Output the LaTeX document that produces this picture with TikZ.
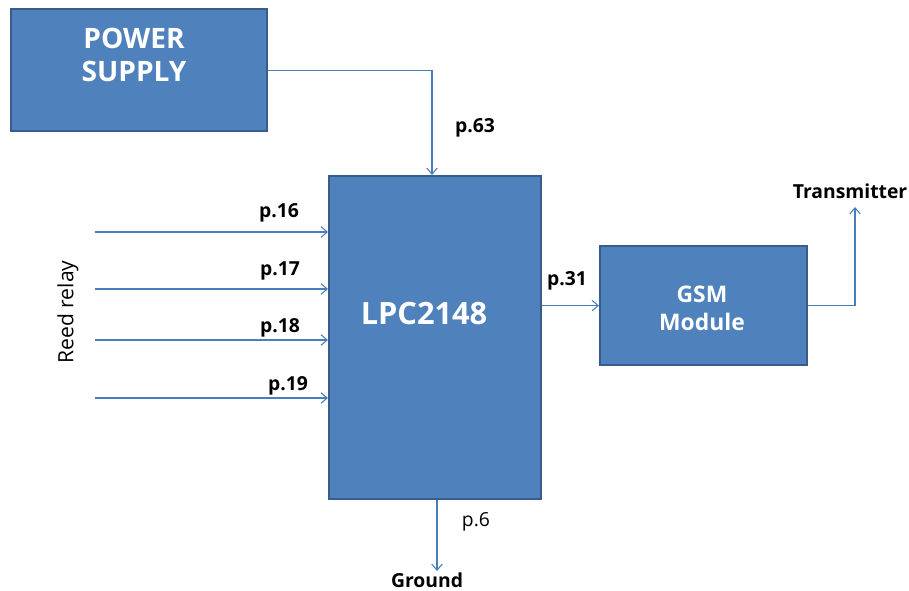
\documentclass[tikz,border=0pt]{standalone}
\usepackage{fontspec}
\setmainfont{Open Sans}
\usetikzlibrary{positioning,arrows.meta}
\definecolor{blockfill}{HTML}{4F81BD}
\definecolor{blockedge}{HTML}{385D8A}
\definecolor{wirecol}{HTML}{4A7EBB}
\tikzset{
	block/.style = {draw = blockedge, fill = blockfill, line width = 1.3pt, inner sep = 0pt},
	blocktext/.style = {text = white, font = \bfseries, align = center},
	wire/.style = {draw = wirecol, line width = .6pt, -{Straight Barb[length = 3.5pt, width = 6pt]}},
	pin/.style = {font = \fontsize{11}{13}\selectfont\bfseries, inner sep = 0pt}
}
\begin{document}
\begin{tikzpicture}[x = .02cm, y = -.02cm]
		\useasboundingbox (0,0) rectangle (909,591);
		% blocks
		\node [block, anchor = north west, minimum width = 5.12cm, minimum height = 2.44cm] (power) at (10,8) {};
		\node [blocktext, font = \fontsize{16}{18.7}\selectfont\bfseries] (powertxt) at (134,55) {POWER\\SUPPLY};
		\node [block, anchor = north west, minimum width = 4.24cm, minimum height = 6.46cm] (lpc) at (328,175) {};
		\node [blocktext, font = \fontsize{17.5}{20}\selectfont\bfseries] (lpctxt) at (424,314) {LPC2148};
		\node [block, anchor = north west, minimum width = 4.14cm, minimum height = 2.38cm] (gsm) at (599,245) {};
		\node [blocktext, font = \fontsize{13}{15.9}\selectfont\bfseries] (gsmtxt) at (702,308) {GSM\\Module};
		
		% reed relay inputs
		\node [rotate = 90, font = \fontsize{12}{14}\selectfont] (reed) at (68,312) {Reed relay};
		\coordinate (in1) at (95,232);
		\coordinate (in2) at (95,289);
		\coordinate (in3) at (95,340);
		\coordinate (in4) at (95,398);
		\foreach \i in {1,...,4}
		{
			\draw [wire] (in\i) -- (in\i -| lpc.west);
		}
		\node [pin] (p16) at (279,213) {p.16};
		\node [pin] (p17) at (280,271) {p.17};
		\node [pin] (p18) at (280,328) {p.18};
		\node [pin] (p19) at (288,386) {p.19};
		
		% supply
		\coordinate (supin) at (432,0);
		\draw [wire] (power.east) -| (lpc.north -| supin); %supply to p.63
		\node [pin] (p63) at (475,128) {p.63};
		
		% gsm
		\draw [wire] (lpc.east |- gsm.west) -- (gsm.west);
		\node [pin] (p31) at (567,281) {p.31};
		\node [pin] (tx) at (850,191) {Transmitter};
		\coordinate (txin) at (855,207);
		\draw [wire] (gsm.east) -| (txin);
		
		% ground
		\node [pin] (gnd) at (427,580) {Ground};
		\coordinate (gndin) at (437,571);
		\draw [wire] (lpc.south -| gndin) -- (gndin);
		\node [font = \fontsize{11}{13}\selectfont, inner sep = 0pt] (p6) at (476,522) {p.6};
	\end{tikzpicture}
\end{document}
